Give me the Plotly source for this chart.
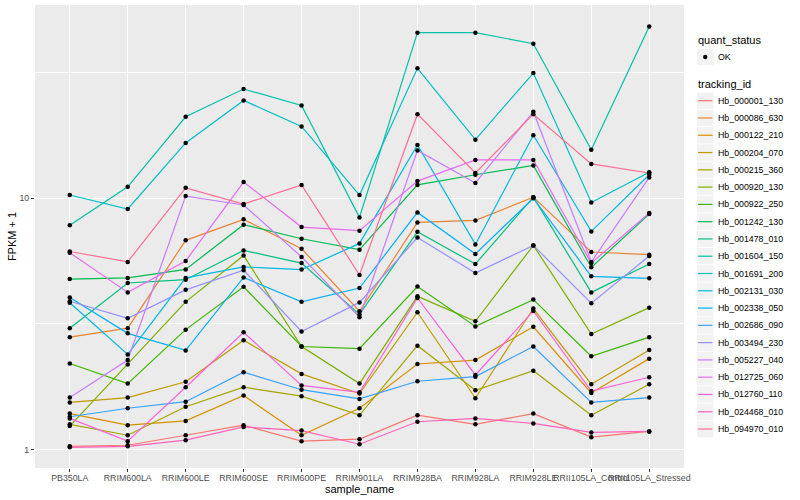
import plotly.graph_objects as go

categories = ["PB350LA", "RRIM600LA", "RRIM600LE", "RRIM600SE", "RRIM600PE", "RRIM901LA",
              "RRIM928BA", "RRIM928LA", "RRIM928LE", "RRII105LA_Control", "RRII105LA_Stressed"]

tracking_ids = ["Hb_000001_130", "Hb_000086_630", "Hb_000122_210", "Hb_000204_070", "Hb_000215_360",
                "Hb_000920_130", "Hb_000922_250", "Hb_001242_130", "Hb_001478_010", "Hb_001604_150",
                "Hb_001691_200", "Hb_002131_030", "Hb_002338_050", "Hb_002686_090", "Hb_003494_230",
                "Hb_005227_040", "Hb_012725_060", "Hb_012760_110", "Hb_024468_010", "Hb_094970_010"]

colors = ["#F8766D", "#EA8331", "#D89000", "#C09B00", "#A3A500", "#7CAE00", "#39B600", "#00BB4E",
          "#00BF7D", "#00C1A3", "#00BFC4", "#00BAE0", "#00B0F6", "#35A2FF", "#9590FF", "#C77CFF",
          "#E76BF3", "#FA62DB", "#FF62BC", "#FF6C91"]

quant_status = ["OK"]

# FPKM + 1 per sample (same order as categories)
hb_000001_130 = [1.03, 1.04, 1.14, 1.25, 1.08, 1.10, 1.37, 1.26, 1.39, 1.12, 1.18]
hb_000086_630 = [2.80, 3.04, 6.80, 8.24, 6.30, 3.55, 8.01, 8.16, 10.1, 6.11, 5.96]
hb_000122_210 = [1.39, 1.25, 1.30, 1.64, 1.14, 1.46, 2.19, 2.27, 3.08, 1.68, 2.30]
hb_000204_070 = [1.54, 1.61, 1.86, 2.72, 2.00, 1.67, 3.52, 1.60, 3.64, 1.82, 2.49]
hb_000215_360 = [1.26, 1.14, 1.48, 1.77, 1.63, 1.37, 2.59, 1.72, 2.06, 1.37, 1.82]
hb_000920_130 = [1.24, 2.18, 3.87, 5.92, 2.57, 1.83, 4.07, 3.24, 6.49, 2.88, 3.67]
hb_000922_250 = [2.20, 1.83, 3.00, 4.44, 2.57, 2.52, 4.45, 3.09, 3.95, 2.35, 2.80]
hb_001242_130 = [4.77, 4.82, 5.21, 7.85, 6.90, 6.24, 11.3, 12.4, 13.5, 5.31, 8.65]
hb_001478_010 = [3.04, 4.60, 4.74, 6.20, 5.52, 3.45, 7.35, 5.47, 10.1, 4.22, 5.47]
hb_001604_150 = [7.80, 11.1, 21.1, 27.2, 23.4, 8.39, 45.6, 45.6, 41.2, 15.6, 48.2]
hb_001691_200 = [10.3, 9.06, 16.6, 24.5, 19.3, 10.3, 32.9, 17.1, 31.5, 9.62, 12.7]
hb_002131_030 = [3.84, 2.39, 4.82, 5.33, 5.20, 6.61, 16.3, 6.55, 17.8, 7.38, 12.4]
hb_002338_050 = [4.03, 2.90, 2.48, 4.84, 3.87, 4.39, 8.78, 6.00, 10.0, 4.89, 4.80]
hb_002686_090 = [1.35, 1.46, 1.55, 2.03, 1.73, 1.59, 1.87, 1.95, 2.57, 1.54, 1.61]
hb_003494_230 = [3.89, 3.33, 4.32, 5.17, 2.95, 3.85, 6.98, 5.04, 6.49, 3.82, 5.89]
hb_005227_040 = [1.61, 2.27, 10.2, 9.40, 5.84, 3.36, 15.5, 11.5, 22.1, 5.58, 12.1]
hb_012725_060 = [6.07, 4.22, 5.63, 11.6, 7.68, 7.43, 11.7, 14.2, 14.2, 5.52, 8.73]
hb_012760_110 = [1.33, 1.08, 1.77, 2.93, 1.80, 1.69, 4.01, 1.98, 3.56, 1.71, 1.94]
hb_024468_010 = [1.02, 1.03, 1.09, 1.23, 1.19, 1.05, 1.29, 1.33, 1.27, 1.17, 1.18]
hb_094970_010 = [6.14, 5.58, 11.0, 9.48, 11.3, 4.95, 21.6, 12.6, 21.6, 13.7, 12.6]

series = [hb_000001_130, hb_000086_630, hb_000122_210, hb_000204_070, hb_000215_360,
          hb_000920_130, hb_000922_250, hb_001242_130, hb_001478_010, hb_001604_150,
          hb_001691_200, hb_002131_030, hb_002338_050, hb_002686_090, hb_003494_230,
          hb_005227_040, hb_012725_060, hb_012760_110, hb_024468_010, hb_094970_010]

y_tick_vals = [1, 10]
y_tick_text = ["1", "10"]
y_minor_vals = [10 ** 0.5, 10 ** 1.5]

FONT = "Liberation Sans, Arial, Helvetica, sans-serif"

# page layout (pixels)
W, H = 800, 500
ML, MR, MT, MB = 35, 116, 5, 32
PW, PH = W - ML - MR, H - MT - MB


def px_x(px):
    return (px - ML) / PW


def px_y(py):
    return (H - MB - py) / PH


fig = go.Figure()

for tid, col, vals in zip(tracking_ids, colors, series):
    fig.add_trace(go.Scatter(
        x=categories, y=vals, mode="lines", name=tid,
        line=dict(color=col, width=1.2),
        showlegend=False, hoverinfo="skip",
    ))

all_x = []
all_y = []
for vals in series:
    all_x.extend(categories)
    all_y.extend(vals)

fig.add_trace(go.Scatter(
    x=all_x, y=all_y, mode="markers", name=quant_status[0], showlegend=False,
    marker=dict(color="black", size=4.5),
    hoverinfo="skip",
))

# ---- legend (ggplot style keys) ----
shapes = []
annotations = []
LX = 697
KEY = 16.5
annotations.append(dict(x=px_x(696), y=px_y(40), xref="paper", yref="paper", text="quant_status",
                        showarrow=False, xanchor="left", yanchor="middle",
                        font=dict(size=11, color="black", family=FONT)))
cy = 57
shapes.append(dict(type="rect", xref="paper", yref="paper", x0=px_x(LX), x1=px_x(LX + KEY),
                   y0=px_y(cy - KEY / 2), y1=px_y(cy + KEY / 2), fillcolor="#F2F2F2", line=dict(width=0),
                   layer="above"))
shapes.append(dict(type="circle", xref="paper", yref="paper", x0=px_x(LX + KEY / 2 - 2.2),
                   x1=px_x(LX + KEY / 2 + 2.2), y0=px_y(cy - 2.2), y1=px_y(cy + 2.2),
                   fillcolor="black", line=dict(width=0), layer="above"))
annotations.append(dict(x=px_x(715.5), y=px_y(cy), xref="paper", yref="paper", text=quant_status[0],
                        showarrow=False, xanchor="left", yanchor="middle",
                        font=dict(size=8.8, color="black", family=FONT)))

annotations.append(dict(x=px_x(696), y=px_y(83.5), xref="paper", yref="paper", text="tracking_id",
                        showarrow=False, xanchor="left", yanchor="middle",
                        font=dict(size=11, color="black", family=FONT)))
for i, (tid, col) in enumerate(zip(tracking_ids, colors)):
    cy = 100.7 + i * 17.28
    shapes.append(dict(type="rect", xref="paper", yref="paper", x0=px_x(LX), x1=px_x(LX + KEY),
                       y0=px_y(cy - KEY / 2), y1=px_y(cy + KEY / 2), fillcolor="#F2F2F2",
                       line=dict(width=0), layer="above"))
    shapes.append(dict(type="line", xref="paper", yref="paper", x0=px_x(LX + 1), x1=px_x(LX + KEY - 1),
                       y0=px_y(cy), y1=px_y(cy), line=dict(color=col, width=1.2), layer="above"))
    annotations.append(dict(x=px_x(715.5), y=px_y(cy), xref="paper", yref="paper", text=tid,
                            showarrow=False, xanchor="left", yanchor="middle",
                            font=dict(size=8.8, color="black", family=FONT)))

fig.update_layout(
    width=W, height=H,
    margin=dict(l=ML, r=MR, t=MT, b=MB),
    paper_bgcolor="white",
    plot_bgcolor="#EBEBEB",
    font=dict(family=FONT, size=9, color="black"),
    showlegend=False,
    shapes=shapes,
    annotations=annotations,
    xaxis=dict(
        type="category",
        categoryorder="array", categoryarray=categories,
        range=[-0.6, 10.6],
        tickmode="linear", dtick=1, tickangle=0,
        showgrid=True, gridcolor="white", gridwidth=1.1,
        zeroline=False, showline=False,
        ticks="outside", ticklen=3, tickcolor="#333333", tickwidth=1,
        ticklabelstandoff=-2,
        tickfont=dict(size=8.8, color="#4D4D4D", family=FONT),
        title=dict(text="sample_name", font=dict(size=11, color="black", family=FONT), standoff=0),
        automargin=False,
    ),
    yaxis=dict(
        type="log",
        range=[-0.0735, 1.769],
        tickmode="array", tickvals=y_tick_vals, ticktext=y_tick_text,
        showgrid=True, gridcolor="white", gridwidth=1.1,
        minor=dict(tickmode="array", tickvals=y_minor_vals, showgrid=True,
                   gridcolor="white", gridwidth=0.55, ticks=""),
        zeroline=False, showline=False,
        ticks="outside", ticklen=3, tickcolor="#333333", tickwidth=1,
        tickfont=dict(size=8.8, color="#4D4D4D", family=FONT),
        title=dict(text="FPKM + 1", font=dict(size=11, color="black", family=FONT), standoff=0),
        automargin=False,
    ),
)

fig.write_html("out.html", config={"displayModeBar": False},
               post_script="document.body.style.margin='0px';")
